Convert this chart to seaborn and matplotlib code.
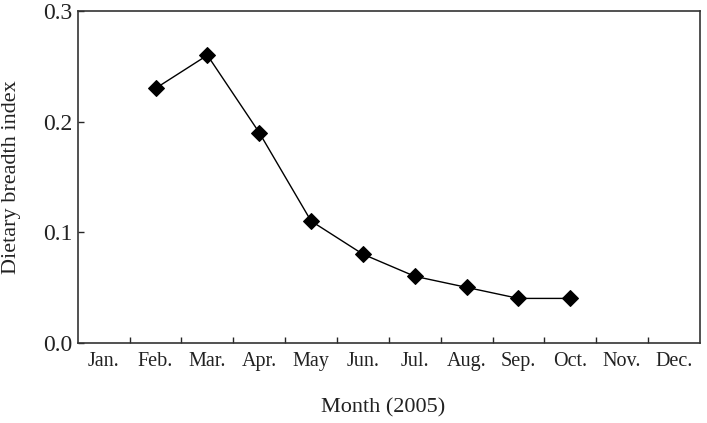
import matplotlib
matplotlib.use("Agg")
import matplotlib.pyplot as plt
import seaborn as sns
import pandas as pd
import numpy as np

meses = ["Jan.", "Feb.", "Mar.", "Apr.", "May", "Jun.", "Jul.", "Aug.", "Sep.", "Oct.", "Nov.", "Dec."]
meses_obs = ["Feb.", "Mar.", "Apr.", "May", "Jun.", "Jul.", "Aug.", "Sep.", "Oct."]
indice = [0.23, 0.26, 0.19, 0.11, 0.08, 0.06, 0.05, 0.04, 0.04]

sns.set_style("ticks")
plt.rcParams["font.family"] = ["Liberation Serif", "DejaVu Serif"]

df = pd.DataFrame({"mes": meses_obs, "indice": indice})
df["pos"] = [meses.index(m) + 0.5 for m in df["mes"]]

fig, ax = plt.subplots(figsize=(7.07, 4.23), dpi=100)
sns.lineplot(data=df, x="pos", y="indice", ax=ax, color="black", linewidth=1,
             marker="D", markersize=8, markeredgecolor="black", markerfacecolor="black")

ax.set_xlim(0, 12)
ax.set_ylim(0, 0.3)
ax.set_xticks(np.arange(12) + 0.5)
ax.set_xticklabels(meses, fontsize=14.5, color="#222222")
ax.set_xticks(np.arange(1, 12), minor=True)
ax.tick_params(axis="x", which="major", length=0, pad=7)
ax.tick_params(axis="x", which="minor", direction="in", length=4, width=1)
ax.set_yticks([0.0, 0.1, 0.2, 0.3])
ax.set_yticklabels(["0.0", "0.1", "0.2", "0.3"], fontsize=17, color="#222222")
ax.tick_params(axis="y", direction="in", length=4, width=1, pad=4)
for s in ax.spines.values():
    s.set_linewidth(1.2)
    s.set_color("#333333")

ax.set_xlabel("Month (2005)", fontsize=16, color="#222222")
ax.set_ylabel("Dietary breadth index", fontsize=16, color="#222222")
ax.xaxis.set_label_coords(0.49, -0.168)
ax.yaxis.set_label_coords(-0.092, 0.5)

fig.subplots_adjust(left=0.11, right=0.99, top=0.974, bottom=0.19)
plt.savefig("out.png", dpi=100)
